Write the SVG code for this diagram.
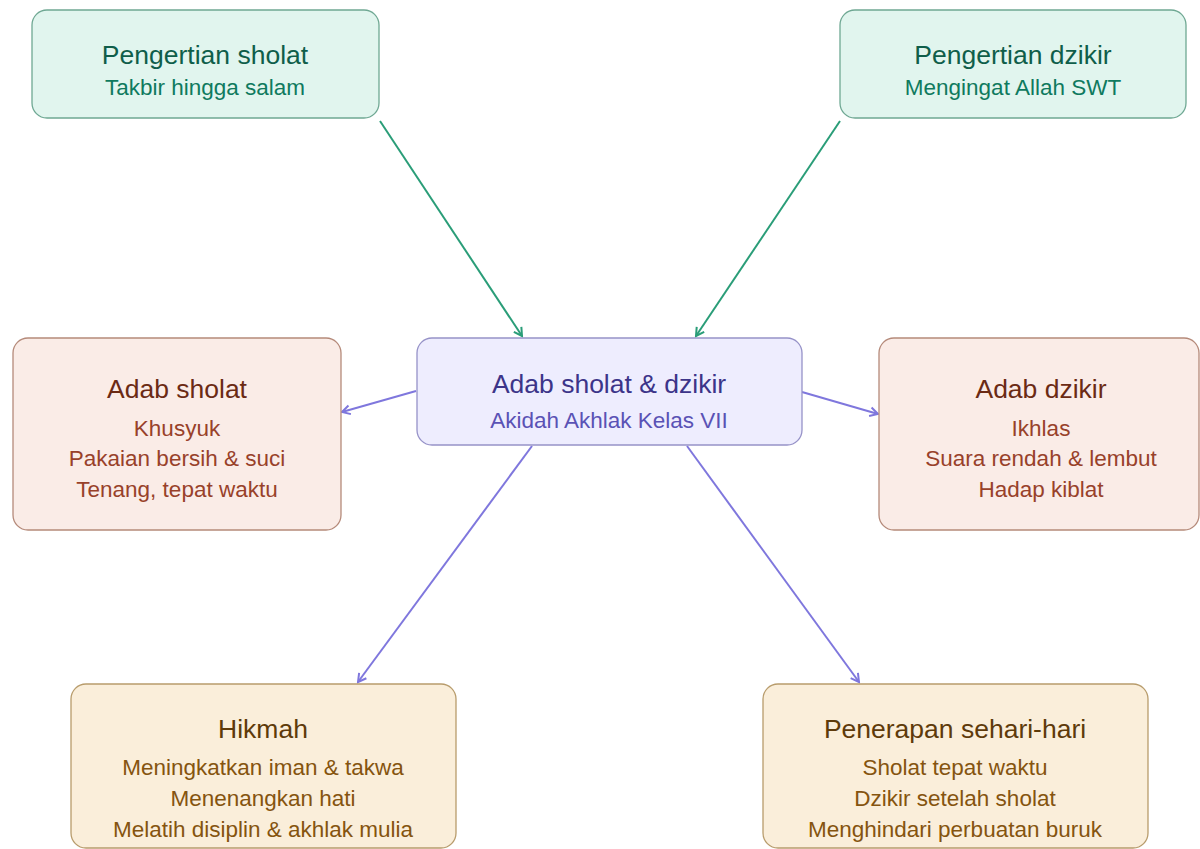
<svg xmlns="http://www.w3.org/2000/svg" width="1200" height="849" viewBox="0 0 1200 849">
<defs>
<style>
text{font-family:"Liberation Sans",Arial,sans-serif;text-anchor:middle}
.t{font-size:26.5px}
.s{font-size:22.5px}
.box{stroke-width:1.3}
.mint rect{fill:#E1F5EE;stroke:#6FA893}
.mint .t{fill:#0F5E4A}
.mint .s{fill:#0F7A5E}
.lav rect{fill:#EEEDFE;stroke:#9692C8}
.lav .t{fill:#3C3489}
.lav .s{fill:#5A52B5}
.coral rect{fill:#FAECE7;stroke:#B58A7A}
.coral .t{fill:#6B2A14}
.coral .s{fill:#98412A}
.amber rect{fill:#FAEEDA;stroke:#B89C6C}
.amber .t{fill:#5E3A0A}
.amber .s{fill:#85540F}
.g{stroke:#2A9D78;stroke-width:2;fill:none}
.p{stroke:#7F77DD;stroke-width:2;fill:none}
</style>
<marker id="ag" markerUnits="userSpaceOnUse" markerWidth="12" markerHeight="12" refX="10" refY="6" orient="auto"><path d="M2,1.5 L10,6 L2,10.5" fill="none" stroke="#2A9D78" stroke-width="2"/></marker>
<marker id="ap" markerUnits="userSpaceOnUse" markerWidth="12" markerHeight="12" refX="10" refY="6" orient="auto"><path d="M2,1.5 L10,6 L2,10.5" fill="none" stroke="#7F77DD" stroke-width="2"/></marker>
</defs>
<rect width="1200" height="849" fill="#ffffff"/>
<g id="connectors">
<line class="g" x1="380" y1="121" x2="522" y2="336" marker-end="url(#ag)"/>
<line class="g" x1="840" y1="121" x2="696" y2="336" marker-end="url(#ag)"/>
<line class="p" x1="416" y1="391" x2="342" y2="412" marker-end="url(#ap)"/>
<line class="p" x1="802" y1="392" x2="878" y2="414" marker-end="url(#ap)"/>
<line class="p" x1="532" y1="446" x2="358" y2="682" marker-end="url(#ap)"/>
<line class="p" x1="687" y1="446" x2="859" y2="682" marker-end="url(#ap)"/>
</g>
<g id="pengertian-sholat" class="mint">
<rect class="box" x="32" y="10" width="347" height="108" rx="15"/>
<text class="t" x="205" y="64">Pengertian sholat</text>
<text class="s" x="205" y="95">Takbir hingga salam</text>
</g>
<g id="pengertian-dzikir" class="mint">
<rect class="box" x="840" y="10" width="346" height="108" rx="15"/>
<text class="t" x="1013" y="64">Pengertian dzikir</text>
<text class="s" x="1013" y="95">Mengingat Allah SWT</text>
</g>
<g id="center" class="lav">
<rect class="box" x="417" y="338" width="385" height="107" rx="15"/>
<text class="t" x="609" y="393">Adab sholat &amp; dzikir</text>
<text class="s" x="609" y="428">Akidah Akhlak Kelas VII</text>
</g>
<g id="adab-sholat" class="coral">
<rect class="box" x="13" y="338" width="328" height="192" rx="15"/>
<text class="t" x="177" y="398">Adab sholat</text>
<text class="s" x="177" y="436">Khusyuk</text>
<text class="s" x="177" y="466">Pakaian bersih &amp; suci</text>
<text class="s" x="177" y="497">Tenang, tepat waktu</text>
</g>
<g id="adab-dzikir" class="coral">
<rect class="box" x="879" y="338" width="320" height="192" rx="15"/>
<text class="t" x="1041" y="398">Adab dzikir</text>
<text class="s" x="1041" y="436">Ikhlas</text>
<text class="s" x="1041" y="466">Suara rendah &amp; lembut</text>
<text class="s" x="1041" y="497">Hadap kiblat</text>
</g>
<g id="hikmah" class="amber">
<rect class="box" x="71" y="684" width="385" height="164" rx="15"/>
<text class="t" x="263" y="738">Hikmah</text>
<text class="s" x="263" y="775">Meningkatkan iman &amp; takwa</text>
<text class="s" x="263" y="806">Menenangkan hati</text>
<text class="s" x="263" y="837">Melatih disiplin &amp; akhlak mulia</text>
</g>
<g id="penerapan" class="amber">
<rect class="box" x="763" y="684" width="385" height="164" rx="15"/>
<text class="t" x="955" y="738">Penerapan sehari-hari</text>
<text class="s" x="955" y="775">Sholat tepat waktu</text>
<text class="s" x="955" y="806">Dzikir setelah sholat</text>
<text class="s" x="955" y="837">Menghindari perbuatan buruk</text>
</g>
</svg>
